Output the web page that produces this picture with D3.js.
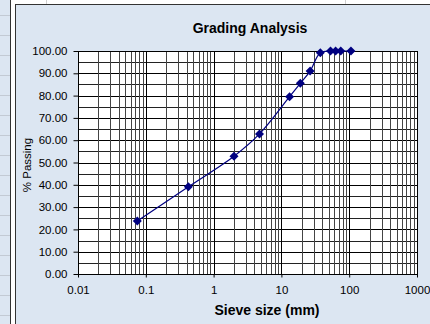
<!DOCTYPE html>
<html>
<head>
<meta charset="utf-8">
<script src="https://cdn.jsdelivr.net/npm/d3@7"></script>
<style>
  body { margin: 0; background: #fff; }
  svg { display: block; font-family: Arial, 'Liberation Sans', sans-serif; }
</style>
</head>
<body>
<script>
// sieve sizes (mm) and % passing
var sieveSizes = [0.075, 0.425, 2, 4.75, 13.2, 19, 26.5, 37.5, 53, 63, 75, 106];
var percentPassing = [23.8, 39.1, 52.8, 62.8, 79.5, 85.5, 91.0, 99.2, 100, 100, 100, 100];
var xTickValues = [0.01, 0.1, 1, 10, 100, 1000];
var yTickValues = [0, 10, 20, 30, 40, 50, 60, 70, 80, 90, 100];
var yMinorValues = [5, 15, 25, 35, 45, 55, 65, 75, 85, 95];

var width = 430;
var height = 324;
var plot = { left: 78, right: 417, top: 51, bottom: 274 };
var bg = '#dce6f2';
var navy = '#000080';

var svg = d3.select('body').append('svg')
  .attr('width', width)
  .attr('height', height);

var x = d3.scaleLog().domain([0.01, 1000]).range([plot.left, plot.right]);
var y = d3.scaleLinear().domain([0, 100]).range([plot.bottom, plot.top]);

// pezzo di foglio di calcolo dietro al grafico
svg.append('rect').attr('x', 0).attr('y', 0).attr('width', 10).attr('height', height).attr('fill', bg);
svg.selectAll('line.cell')
  .data(d3.range(15, height, 20))
  .enter()
  .append('line')
  .attr('class', 'cell')
  .attr('x1', 0).attr('x2', 10)
  .attr('y1', function (d) { return d + 0.5 })
  .attr('y2', function (d) { return d + 0.5 })
  .style('stroke', '#c3cad4');
svg.append('line').attr('x1', 10.5).attr('x2', 10.5).attr('y1', 0).attr('y2', height).style('stroke', '#333');
svg.selectAll('line.col')
  .data([46, 345])
  .enter()
  .append('line')
  .attr('class', 'col')
  .attr('x1', function (d) { return d + 0.5 })
  .attr('x2', function (d) { return d + 0.5 })
  .attr('y1', 0).attr('y2', 4)
  .style('stroke', '#d0d0d0');

// area del grafico
svg.append('rect')
  .attr('x', 15.5).attr('y', 4.5)
  .attr('width', width).attr('height', height)
  .attr('fill', bg)
  .style('stroke', '#333');

// area del plot
svg.append('rect')
  .attr('x', plot.left).attr('y', plot.top)
  .attr('width', plot.right - plot.left).attr('height', plot.bottom - plot.top)
  .attr('fill', '#fff');

var grid = svg.append('g').attr('shape-rendering', 'crispEdges');

// griglia orizzontale
grid.selectAll('line.hminor')
  .data(yMinorValues)
  .enter()
  .append('line')
  .attr('class', 'hminor')
  .attr('x1', plot.left).attr('x2', plot.right)
  .attr('y1', function (d) { return Math.round(y(d)) + 0.5 })
  .attr('y2', function (d) { return Math.round(y(d)) + 0.5 })
  .style('stroke', '#222');
grid.selectAll('line.hmajor')
  .data(yTickValues)
  .enter()
  .append('line')
  .attr('class', 'hmajor')
  .attr('x1', plot.left).attr('x2', plot.right)
  .attr('y1', function (d) { return Math.round(y(d)) + 0.5 })
  .attr('y2', function (d) { return Math.round(y(d)) + 0.5 })
  .style('stroke', '#000');

// griglia verticale (log)
var minorX = x.ticks().filter(function (d) { return xTickValues.indexOf(d) < 0 });
grid.selectAll('line.vminor')
  .data(minorX)
  .enter()
  .append('line')
  .attr('class', 'vminor')
  .attr('y1', plot.top).attr('y2', plot.bottom)
  .attr('x1', function (d) { return Math.round(x(d)) + 0.5 })
  .attr('x2', function (d) { return Math.round(x(d)) + 0.5 })
  .style('stroke', '#444');
grid.selectAll('line.vmajor')
  .data(xTickValues)
  .enter()
  .append('line')
  .attr('class', 'vmajor')
  .attr('y1', plot.top).attr('y2', plot.bottom)
  .attr('x1', function (d) { return Math.round(x(d)) + 0.5 })
  .attr('x2', function (d) { return Math.round(x(d)) + 0.5 })
  .style('stroke', '#000');

svg.append('rect')
  .attr('x', plot.left + 0.5).attr('y', plot.top + 0.5)
  .attr('width', plot.right - plot.left).attr('height', plot.bottom - plot.top)
  .attr('fill', 'none')
  .style('stroke', '#000');

// assi
var yAxis = svg.append('g')
  .attr('transform', 'translate(' + (plot.left + 0.5) + ',0)')
  .call(d3.axisLeft(y).tickValues(yTickValues).tickFormat(d3.format('.2f')).tickSize(5).tickPadding(6));
var xAxis = svg.append('g')
  .attr('transform', 'translate(0,' + (plot.bottom + 0.5) + ')')
  .call(d3.axisBottom(x).tickValues(xTickValues).tickFormat(function (d) { return d }).tickSize(3).tickPadding(8));
[yAxis, xAxis].forEach(function (a) {
  a.select('.domain').remove();
  a.selectAll('text').style('font-size', '11.5px').style('font-family', 'Arial, Liberation Sans, sans-serif').attr('fill', '#000');
  a.selectAll('line').style('stroke', '#000');
});

// curva granulometrica
var points = sieveSizes.map(function (s, i) { return [s, percentPassing[i]] });
var line = d3.line()
  .x(function (d) { return x(d[0]) })
  .y(function (d) { return y(d[1]) })
  .curve(d3.curveCatmullRom);
svg.append('path')
  .datum(points)
  .attr('d', line)
  .attr('fill', 'none')
  .style('stroke', navy)
  .style('stroke-width', 1.2);
svg.selectAll('path.marker')
  .data(points)
  .enter()
  .append('path')
  .attr('class', 'marker')
  .attr('transform', function (d) { return 'translate(' + x(d[0]) + ',' + y(d[1]) + ')' })
  .attr('d', 'M0,-4.5L4.5,0L0,4.5L-4.5,0Z')
  .attr('fill', navy);

// titoli
svg.append('text')
  .attr('x', 250).attr('y', 33)
  .attr('text-anchor', 'middle')
  .style('font-size', '14px').style('font-weight', 'bold')
  .text('Grading Analysis');
svg.append('text')
  .attr('x', 267).attr('y', 315)
  .attr('text-anchor', 'middle')
  .style('font-size', '14px').style('font-weight', 'bold')
  .text('Sieve size (mm)');
svg.append('text')
  .attr('transform', 'translate(31,165) rotate(-90)')
  .attr('text-anchor', 'middle')
  .style('font-size', '11.5px')
  .text('% Passing');
</script>
</body>
</html>
